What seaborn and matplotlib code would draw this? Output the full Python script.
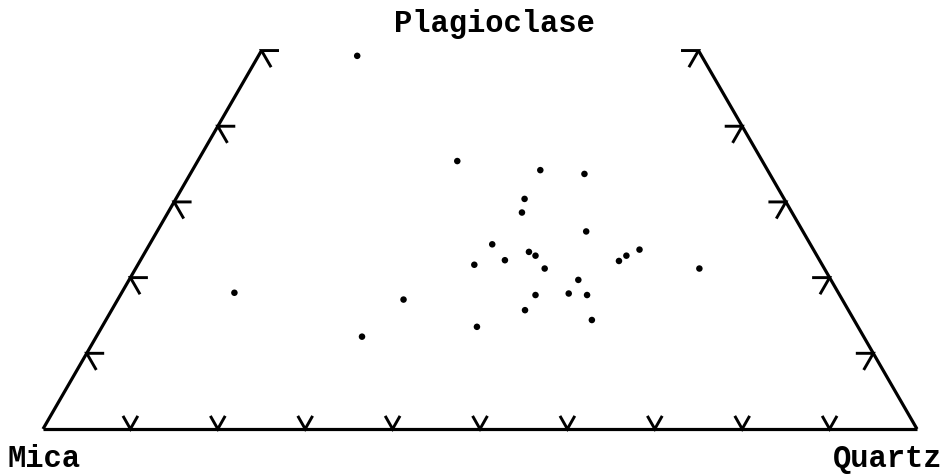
import numpy as np
import pandas as pd
import seaborn as sns
import matplotlib
matplotlib.use("Agg")
import matplotlib.pyplot as plt

# modal composition in percent (Mica = 100 - Quartz - Plagioclase)
quartz = [11.3, 29.7, 39.8, 45.1, 39.9, 40.5, 49.1, 39.2, 43.9, 44.9,
          41.7, 38.5, 46.8, 54.8, 55.3, 56.4, 51.4, 47.5, 51.2, 53.4,
          47.3, 55.6, 42.9, 12.9, 32.7, 30.4, 64.5]
plagioclase = [49.3, 35.4, 34.2, 33.7, 30.4, 28.6, 26.1, 24.4, 23.4, 22.9,
               22.3, 21.7, 21.2, 22.2, 22.9, 23.7, 19.7, 17.7, 17.9, 17.7,
               15.7, 14.4, 13.5, 18.0, 17.1, 12.2, 21.2]
corner_labels = ["Mica", "Quartz", "Plagioclase"]
side_ticks = [10, 20, 30, 40, 50]
base_ticks = [10, 20, 30, 40, 50, 60, 70, 80, 90]
plag_cut = 50

S = np.sqrt(3) / 2


def to_xy(q, p):
    q = np.asarray(q, dtype=float)
    p = np.asarray(p, dtype=float)
    return q + p / 2, p * S


df = pd.DataFrame({"Quartz": quartz, "Plagioclase": plagioclase})
df["Mica"] = 100 - df["Quartz"] - df["Plagioclase"]
df["x"], df["y"] = to_xy(df["Quartz"], df["Plagioclase"])

sns.set_style("white")
plt.rcParams["font.family"] = ["Liberation Mono", "DejaVu Sans Mono"]

fig = plt.figure(figsize=(9.45, 4.76), dpi=100)
ax = fig.add_axes([0, 0, 1, 1])
px = 874 / 100  # pixels per composition unit
ax.set_xlim(-43 / px, (945 - 43) / px)
ax.set_ylim(-(476 - 429) / px, 429 / px)
ax.axis("off")

# truncated triangle outline
ox, oy = to_xy([0, 0, 100 - plag_cut, 100], [0, plag_cut, plag_cut, 0])
line_kw = dict(color="black", lw=2.3, solid_capstyle="butt")
ax.plot([ox[0], ox[1]], [oy[0], oy[1]], **line_kw)
ax.plot([ox[2], ox[3]], [oy[2], oy[3]], **line_kw)
ax.plot([ox[0], ox[3]], [oy[0], oy[3]], **line_kw)

tl = 2.0
kw = dict(color="black", lw=2.1, solid_capstyle="butt", solid_joinstyle="miter")
# left side chevrons
for p in side_ticks:
    x0, y0 = to_xy(0, p)
    ax.plot([x0 + tl, x0, x0 + tl * 0.55], [y0, y0, y0 - tl * 0.55 * 2 * S], **kw)
# right side chevrons
for p in side_ticks:
    x0, y0 = to_xy(100 - p, p)
    ax.plot([x0 - tl, x0, x0 - tl * 0.55], [y0, y0, y0 - tl * 0.55 * 2 * S], **kw)
# base chevrons
for q in base_ticks:
    x0, y0 = to_xy(q, 0)
    ax.plot([x0 - 0.85, x0, x0 + 0.85], [y0 + 1.5, y0, y0 + 1.5], **kw)

sns.scatterplot(data=df, x="x", y="y", ax=ax, color="black", s=22,
                edgecolor="none", legend=False)

font = dict(fontsize=22, fontweight="bold", color="black")
ax.text((8 - 43) / px, (429 - 467) / px, corner_labels[0], ha="left", va="baseline", **font)
ax.text((942 - 43) / px, (429 - 467) / px, corner_labels[1], ha="right", va="baseline", **font)
ax.text((494 - 43) / px, (429 - 32) / px, corner_labels[2], ha="center", va="baseline", **font)

fig.savefig("out.png", dpi=100, facecolor="white")
